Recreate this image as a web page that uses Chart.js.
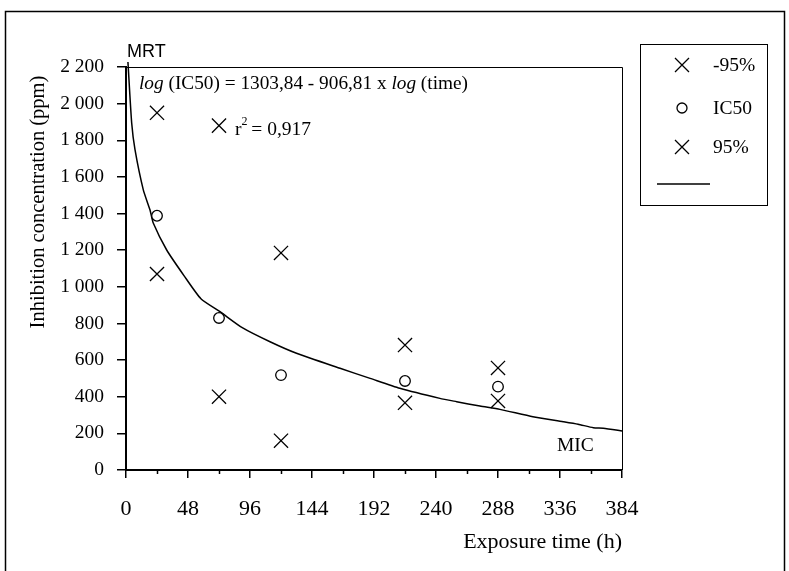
<!DOCTYPE html>
<html>
<head>
<meta charset="utf-8">
<script src="https://cdn.jsdelivr.net/npm/chart.js@4"></script>
<style>
  body { margin: 0; background: #fff; }
  canvas { display: block; }
</style>
</head>
<body>
<canvas id="chart" width="789" height="571"></canvas>
<script>
const times = [24, 72, 120, 216, 288];
const lower95 = [1070, 400, 160, 367, 377];
const ic50 = [1388, 830, 518, 486, 455];
const upper95 = [1950, 1880, 1185, 682, 557];

// fitted curve
const curveTime = [1.5, 4.4, 7, 13.4, 18.6, 21.1, 31.5, 45, 58, 72.8, 90, 111.5, 132, 165.7, 189, 212, 243, 256, 274, 289.5, 315, 338.5, 350, 361.8, 369.5, 384.2, 390];
const curveConc = [2227, 1894, 1747, 1529, 1419, 1348, 1201, 1060, 935, 864, 777, 700, 637, 555, 500, 446, 391, 373, 349, 331, 291, 264, 250, 231, 228, 213, 207];

const xTicks = [0, 48, 96, 144, 192, 240, 288, 336, 384];
const yTicks = [0, 200, 400, 600, 800, 1000, 1200, 1400, 1600, 1800, 2000, 2200];

const legendLabels = ['-95%', 'IC50', '95%', ''];

const serif = '"Liberation Serif", "Times New Roman", serif';
const sans = '"Liberation Sans", Arial, sans-serif';

const toPoints = (xs, ys) => xs.map((x, i) => ({x, y: ys[i]}));

const fmt = v => v >= 1000 ? Math.floor(v / 1000) + ' ' + String(v % 1000).padStart(3, '0') : String(v);

const decor = {
  id: 'decor',
  beforeDraw(chart) {
    const ctx = chart.ctx;
    ctx.save();
    ctx.fillStyle = '#fff';
    ctx.fillRect(0, 0, chart.width, chart.height);
    ctx.restore();
  },
  afterDraw(chart) {
    const ctx = chart.ctx;
    const a = chart.chartArea;
    const xs = chart.scales.x;
    ctx.save();
    ctx.strokeStyle = '#000';
    ctx.fillStyle = '#000';

    // outer frame
    ctx.lineWidth = 1.5;
    ctx.beginPath();
    ctx.moveTo(5.5, 571);
    ctx.lineTo(5.5, 11.5);
    ctx.lineTo(784.5, 11.5);
    ctx.lineTo(784.5, 571);
    ctx.stroke();

    // top and right of plot box
    ctx.lineWidth = 1;
    ctx.beginPath();
    ctx.moveTo(a.left, a.top + 0.5);
    ctx.lineTo(a.right + 0.5, a.top + 0.5);
    ctx.lineTo(a.right + 0.5, a.bottom);
    ctx.stroke();

    // minor x ticks
    ctx.lineWidth = 1.5;
    for (let v = 24; v < 384; v += 48) {
      const px = Math.round(xs.getPixelForValue(v)) + 0.5;
      ctx.beginPath();
      ctx.moveTo(px, a.bottom);
      ctx.lineTo(px, a.bottom + 4);
      ctx.stroke();
    }

    // axis titles
    ctx.font = '20.5px ' + serif;
    ctx.textAlign = 'center';
    ctx.textBaseline = 'middle';
    ctx.save();
    ctx.translate(39, 202);
    ctx.rotate(-Math.PI / 2);
    ctx.fillText('Inhibition concentration (ppm)', 0, 0);
    ctx.restore();

    ctx.font = '22px ' + serif;
    ctx.textAlign = 'right';
    ctx.fillText('Exposure time (h)', a.right, 542);

    // annotations
    ctx.textAlign = 'left';
    ctx.font = '18px ' + sans;
    ctx.fillText('MRT', 127, 52);

    const parts = [
      ['italic 19.3px ' + serif, 'log'],
      ['19.3px ' + serif, ' (IC50) = 1303,84 - 906,81 x '],
      ['italic 19.3px ' + serif, 'log'],
      ['19.3px ' + serif, ' (time)']
    ];
    let tx = 139;
    parts.forEach(([f, s]) => {
      ctx.font = f;
      ctx.fillText(s, tx, 84);
      tx += ctx.measureText(s).width;
    });

    ctx.font = '19.5px ' + serif;
    ctx.fillText('r', 235, 130);
    const rw = ctx.measureText('r').width;
    ctx.font = '12px ' + serif;
    ctx.fillText('2', 235 + rw, 122);
    ctx.font = '19.5px ' + serif;
    ctx.fillText(' = 0,917', 235 + rw + 5, 130);

    ctx.fillText('MIC', 557, 446);

    // legend
    ctx.lineWidth = 1;
    ctx.strokeRect(640.5, 44.5, 127, 161);
    const rows = [65, 108, 147, 184];
    chart.data.datasets.forEach((ds, i) => {
      const y = rows[i];
      if (ds.type === 'line') {
        ctx.lineWidth = 1.5;
        ctx.beginPath();
        ctx.moveTo(657, y);
        ctx.lineTo(710, y);
        ctx.stroke();
        return;
      }
      ctx.lineWidth = 1.3;
      ctx.beginPath();
      if (ds.pointStyle === 'circle') {
        ctx.arc(682, y, 5, 0, Math.PI * 2);
      } else {
        ctx.moveTo(675, y - 7); ctx.lineTo(689, y + 7);
        ctx.moveTo(689, y - 7); ctx.lineTo(675, y + 7);
      }
      ctx.stroke();
      ctx.font = '19.5px ' + serif;
      ctx.fillText(ds.label, 713, y + 1);
    });

    ctx.restore();
  }
};

new Chart(document.getElementById('chart'), {
  type: 'scatter',
  data: {
    datasets: [
      {
        label: legendLabels[0],
        data: toPoints(times, lower95),
        pointStyle: 'crossRot',
        pointRadius: 10,
        pointBorderWidth: 1.3,
        borderColor: '#000',
        backgroundColor: '#000'
      },
      {
        label: legendLabels[1],
        data: toPoints(times, ic50),
        pointStyle: 'circle',
        pointRadius: 5.3,
        pointBorderWidth: 1.3,
        borderColor: '#000',
        backgroundColor: '#fff'
      },
      {
        label: legendLabels[2],
        data: toPoints(times, upper95),
        pointStyle: 'crossRot',
        pointRadius: 10,
        pointBorderWidth: 1.3,
        borderColor: '#000',
        backgroundColor: '#000'
      },
      {
        type: 'line',
        label: legendLabels[3],
        data: toPoints(curveTime, curveConc),
        borderColor: '#000',
        borderWidth: 1.5,
        pointRadius: 0,
        tension: 0.2,
        clip: false
      }
    ]
  },
  options: {
    responsive: false,
    animation: false,
    events: [],
    layout: {padding: {left: 0, top: 67, right: 167, bottom: 0}},
    plugins: {legend: {display: false}, tooltip: {enabled: false}},
    scales: {
      x: {
        type: 'linear',
        min: 0,
        max: 384,
        afterFit: s => { s.height = 101; },
        afterBuildTicks: s => { s.ticks = xTicks.map(v => ({value: v})); },
        border: {color: '#000', width: 2},
        grid: {drawOnChartArea: false, drawTicks: true, tickLength: 8, color: '#000', lineWidth: 1.5},
        ticks: {color: '#000', padding: 18, maxRotation: 0, font: {family: serif, size: 22}, callback: v => String(v)}
      },
      y: {
        min: 0,
        max: 2200,
        afterFit: s => { s.width = 126; },
        afterBuildTicks: s => { s.ticks = yTicks.map(v => ({value: v})); },
        border: {color: '#000', width: 2},
        grid: {drawOnChartArea: false, drawTicks: true, tickLength: 9, color: '#000', lineWidth: 1.5},
        ticks: {color: '#000', padding: 13, font: {family: serif, size: 19.5}, callback: v => fmt(v)}
      }
    }
  },
  plugins: [decor]
});
</script>
</body>
</html>
